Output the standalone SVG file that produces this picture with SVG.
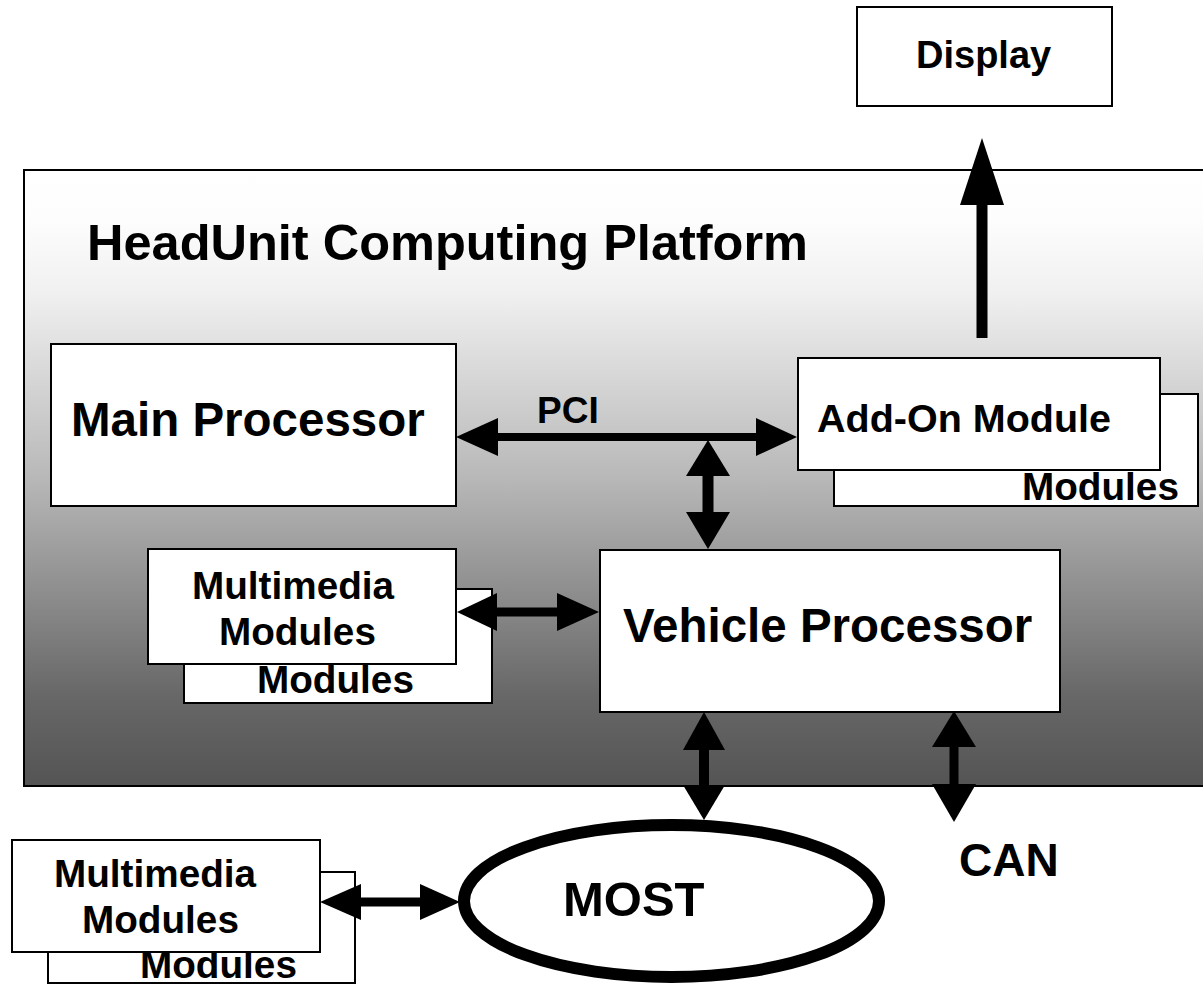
<svg xmlns="http://www.w3.org/2000/svg" width="1203" height="984" viewBox="0 0 1203 984">
  <defs>
    <linearGradient id="bg" gradientUnits="userSpaceOnUse" x1="0" y1="170" x2="0" y2="786">
      <stop offset="0" stop-color="#ffffff"/>
      <stop offset="0.08" stop-color="#fdfdfd"/>
      <stop offset="0.2" stop-color="#f0f0f0"/>
      <stop offset="0.5" stop-color="#b8b8b8"/>
      <stop offset="0.85" stop-color="#686868"/>
      <stop offset="1" stop-color="#545454"/>
    </linearGradient>
  </defs>
  <style>
    .box { fill: #ffffff; stroke: #000000; stroke-width: 2; }
    .t { font-family: "Liberation Sans", Arial, Helvetica, sans-serif; font-weight: bold; fill: #000000; }
    .s { font-size: 38.7px; }
    .l { font-size: 47.5px; }
    .bar { fill: #000000; stroke: none; }
  </style>

  <g id="platform">
    <rect x="24" y="170" width="1190" height="616" fill="url(#bg)" stroke="#000" stroke-width="2"/>
    <text class="t" x="87" y="260" font-size="50.5">HeadUnit Computing Platform</text>
  </g>

  <g id="display">
    <rect class="box" x="857" y="7" width="255" height="99"/>
    <text class="t" x="916" y="68" font-size="38">Display</text>
  </g>

  <g id="main-processor">
    <rect class="box" x="51" y="344" width="405" height="162"/>
    <text class="t l" x="71" y="436">Main Processor</text>
  </g>

  <g id="addon-module">
    <rect class="box" x="834" y="394" width="364" height="112"/>
    <text class="t s" x="1022" y="500">Modules</text>
    <rect class="box" x="798" y="358" width="362" height="112"/>
    <text class="t" x="817" y="432" font-size="39.5">Add-On Module</text>
  </g>

  <g id="multimedia-upper">
    <rect class="box" x="184" y="589" width="308" height="114"/>
    <text class="t s" x="257" y="693">Modules</text>
    <rect class="box" x="148" y="549" width="308" height="115"/>
    <text class="t s" x="192" y="599">Multimedia</text>
    <text class="t s" x="219" y="645">Modules</text>
  </g>

  <g id="vehicle-processor">
    <rect class="box" x="600" y="550" width="460" height="162"/>
    <text class="t l" x="623" y="642">Vehicle Processor</text>
  </g>

  <g id="multimedia-lower">
    <rect class="box" x="48" y="872" width="307" height="111"/>
    <text class="t s" x="140" y="978">Modules</text>
    <rect class="box" x="12" y="840" width="308" height="112"/>
    <text class="t s" x="54" y="887">Multimedia</text>
    <text class="t s" x="82" y="933">Modules</text>
  </g>

  <g id="most">
    <ellipse cx="671.5" cy="901" rx="207.5" ry="76" fill="#ffffff" stroke="#000" stroke-width="12"/>
    <text class="t" x="563" y="916" font-size="49">MOST</text>
  </g>

  <g id="can">
    <text class="t" x="959" y="876" font-size="46">CAN</text>
  </g>

  <g id="connectors">
    <!-- Add-On to Display -->
    <rect class="bar" x="976.5" y="204" width="11" height="134"/>
    <polygon class="bar" points="982,138 960,205 1004,205"/>
    <!-- PCI bus -->
    <rect class="bar" x="497" y="433" width="260" height="8"/>
    <polygon class="bar" points="456,437 498,418 498,456"/>
    <polygon class="bar" points="797,437 756,418 756,456"/>
    <text class="t" x="537" y="423" font-size="37">PCI</text>
    <!-- PCI to Vehicle -->
    <rect class="bar" x="702.5" y="475" width="11" height="38"/>
    <polygon class="bar" points="708,440 686,476 730,476"/>
    <polygon class="bar" points="708,549 686,512 730,512"/>
    <!-- Multimedia upper to Vehicle -->
    <rect class="bar" x="496" y="607.5" width="62" height="9"/>
    <polygon class="bar" points="457,612 497,593 497,631"/>
    <polygon class="bar" points="599,612 557,593 557,631"/>
    <!-- Vehicle to MOST -->
    <rect class="bar" x="699" y="749" width="10" height="37"/>
    <polygon class="bar" points="704,712 683,750 725,750"/>
    <polygon class="bar" points="704,820 683,785 725,785"/>
    <!-- Vehicle to CAN -->
    <rect class="bar" x="949.5" y="746" width="9" height="39"/>
    <polygon class="bar" points="954,711 932,747 976,747"/>
    <polygon class="bar" points="954,822 932,784 976,784"/>
    <!-- Multimedia lower to MOST -->
    <rect class="bar" x="360" y="897.5" width="61" height="9"/>
    <polygon class="bar" points="320,902 361,884 361,920"/>
    <polygon class="bar" points="460,902 420,884 420,920"/>
  </g>
</svg>
